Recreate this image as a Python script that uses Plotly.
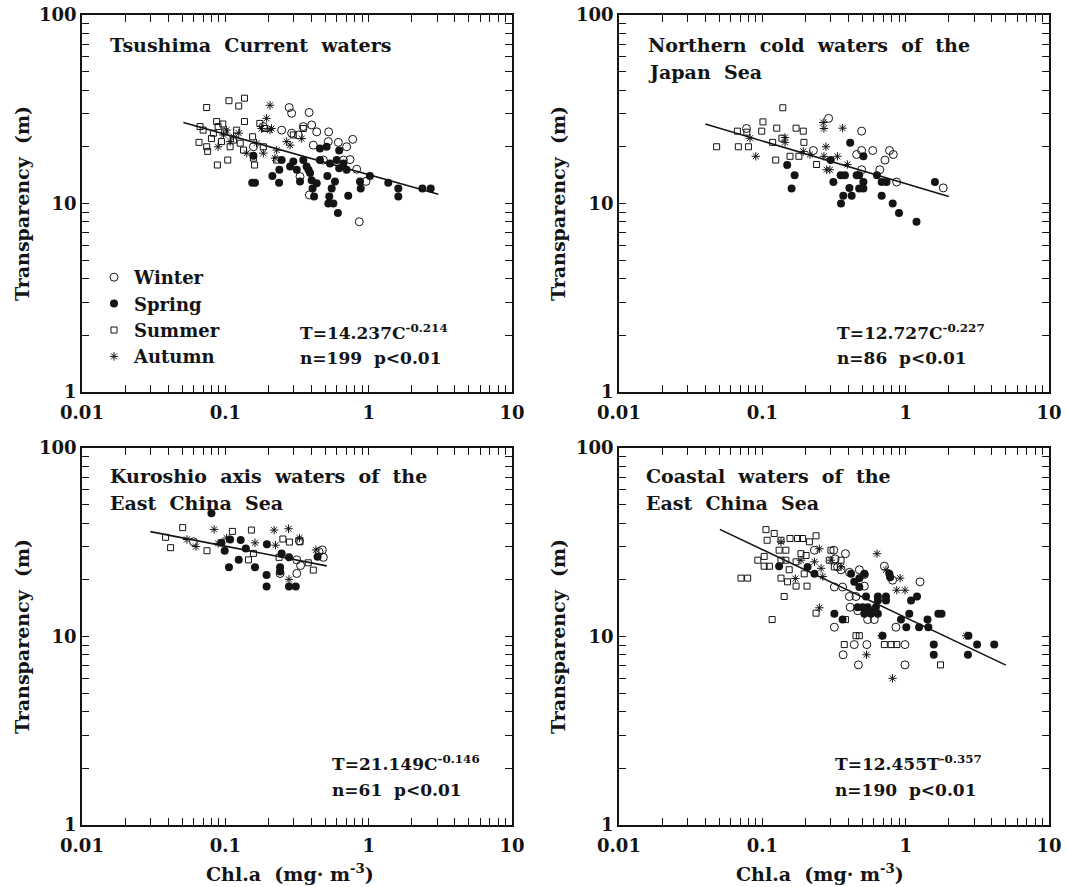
import plotly.graph_objects as go
from plotly.subplots import make_subplots

W, H = 1066, 887
FONT = "DejaVu Serif"
INK = "#141414"

# ---------------- Panel 1: Tsushima Current waters ----------------
tl_winter_x = [0.279, 0.290, 0.384, 0.40, 0.434, 0.526, 0.774, 0.614, 0.702, 0.523, 0.741, 0.825, 0.958,
               0.86, 0.386, 0.332, 0.290, 0.247, 0.323, 0.411, 0.483, 0.666, 0.184, 0.157, 0.35]
tl_winter_y = [32.3, 30.1, 30.4, 26.1, 24.0, 24.0, 21.9, 21.1, 20.0, 21.3, 17.1, 15.2, 13.1,
               8.0, 11.1, 13.9, 23.6, 24.5, 23.1, 20.4, 17.0, 17.0, 25.6, 20.0, 25.6]
tl_spring_x = [0.154, 0.161, 0.213, 0.238, 0.237, 0.332, 0.298, 0.247, 0.315, 0.369, 0.390, 0.40, 0.406,
               0.416, 0.350, 0.457, 0.515, 0.582, 0.552, 0.531, 0.523, 0.567, 0.61, 0.72, 0.623, 0.598,
               0.666, 0.623, 0.870, 0.88, 1.02, 1.37, 1.61, 1.61, 2.37, 2.71, 0.457, 0.537, 0.283,
               0.38, 0.434, 0.702, 0.509, 0.157]
tl_spring_y = [12.9, 12.9, 14.0, 15.1, 12.9, 13.1, 16.7, 17.0, 15.1, 15.7, 14.5, 13.3, 12.0,
               10.9, 17.0, 19.6, 14.0, 13.1, 12.0, 10.9, 10.0, 10.0, 8.9, 11.0, 19.1, 17.0,
               16.3, 15.4, 13.1, 12.0, 14.0, 12.9, 12.0, 10.9, 12.0, 12.0, 17.0, 16.3, 15.7,
               15.1, 12.8, 15.1, 20.0, 17.9]
tl_summer_x = [0.0741, 0.106, 0.124, 0.136, 0.0655, 0.0741, 0.0753, 0.087, 0.096, 0.104, 0.088, 0.160,
               0.136, 0.155, 0.120, 0.157, 0.070, 0.0825, 0.094, 0.108, 0.174, 0.189, 0.228, 0.350,
               0.298, 0.184, 0.134, 0.114, 0.099, 0.0666, 0.080, 0.127, 0.089]
tl_summer_y = [32.3, 35.1, 32.9, 36.2, 21.1, 20.0, 18.9, 27.2, 26.4, 17.0, 16.0, 16.0,
               27.2, 22.6, 24.5, 17.4, 24.5, 23.6, 21.3, 20.0, 26.6, 25.0, 17.0, 25.0,
               23.1, 20.0, 19.2, 21.7, 24.0, 25.6, 22.1, 20.9, 25.6]
tl_autumn_x = [0.205, 0.194, 0.210, 0.114, 0.102, 0.089, 0.141, 0.184, 0.268, 0.341, 0.283, 0.222,
               0.165, 0.124, 0.108, 0.179, 0.228, 0.097, 0.205]
tl_autumn_y = [33.2, 28.3, 25.0, 22.6, 24.5, 20.0, 18.5, 18.5, 21.3, 22.1, 20.4, 17.4,
               20.9, 23.6, 21.3, 25.0, 19.2, 23.1, 24.5]
tl_fit_x = [0.051, 3.06]
tl_fit_y = [26.9, 11.2]

# ---------------- Panel 2: Northern cold waters of the Japan Sea ----------------
tr_winter_x = [0.0775, 0.29, 0.493, 0.227, 0.455, 0.493, 0.589, 0.772, 0.82, 0.717, 0.66, 0.493, 0.865, 1.83]
tr_winter_y = [25.0, 28.3, 24.2, 19.1, 18.2, 19.1, 19.1, 19.1, 18.2, 17.0, 15.1, 15.1, 13.0, 12.1]
tr_spring_x = [0.149, 0.168, 0.160, 0.313, 0.352, 0.377, 0.405, 0.367, 0.354, 0.420, 0.474, 0.507, 0.507,
               0.455, 0.474, 0.63, 0.68, 0.735, 0.68, 0.812, 0.898, 1.19, 1.60, 0.41, 0.507, 0.30]
tr_spring_y = [16.0, 14.1, 12.0, 13.0, 14.1, 14.1, 12.1, 11.0, 10.0, 11.0, 12.0, 12.0, 13.0,
               14.1, 14.1, 14.1, 13.0, 13.0, 11.0, 10.0, 8.9, 8.0, 13.0, 21.0, 17.8, 17.0]
tr_summer_x = [0.139, 0.048, 0.068, 0.080, 0.067, 0.099, 0.101, 0.126, 0.172, 0.193, 0.195, 0.118,
               0.124, 0.156, 0.180, 0.239, 0.137, 0.078]
tr_summer_y = [32.2, 20.0, 20.0, 20.0, 24.2, 24.2, 27.1, 25.1, 25.1, 24.2, 21.1, 21.1,
               17.0, 17.8, 17.8, 16.1, 22.2, 23.9]
tr_autumn_x = [0.266, 0.269, 0.363, 0.144, 0.144, 0.090, 0.278, 0.269, 0.334, 0.281, 0.296, 0.392,
               0.193, 0.215, 0.082]
tr_autumn_y = [26.9, 25.0, 25.1, 22.4, 21.1, 17.8, 20.0, 17.8, 17.8, 15.1, 15.1, 16.1,
               18.9, 18.2, 22.2]
tr_fit_x = [0.040, 2.0]
tr_fit_y = [26.4, 10.9]

# ---------------- Panel 3: Kuroshio axis waters of the East China Sea ----------------
bl_winter_x = [0.060, 0.328, 0.315, 0.335, 0.315, 0.241, 0.475, 0.483, 0.450]
bl_winter_y = [31.8, 32.2, 25.5, 23.8, 21.6, 21.6, 28.8, 26.3, 28.2]
bl_spring_x = [0.080, 0.094, 0.108, 0.128, 0.099, 0.124, 0.106, 0.139, 0.161, 0.195, 0.194, 0.247,
               0.278, 0.241, 0.241, 0.194, 0.278, 0.31, 0.44]
bl_spring_y = [45.0, 31.4, 32.7, 32.5, 28.5, 25.5, 23.3, 29.3, 23.3, 30.9, 21.2, 27.6,
               26.3, 23.3, 22.1, 18.4, 18.4, 18.4, 26.5]
bl_summer_x = [0.0504, 0.0383, 0.0415, 0.0745, 0.112, 0.152, 0.252, 0.280, 0.145, 0.237, 0.379, 0.411,
               0.332, 0.157]
bl_summer_y = [37.8, 33.6, 29.6, 28.5, 36.1, 36.7, 32.9, 31.7, 25.5, 26.3, 24.6, 22.5,
               31.8, 27.6]
bl_autumn_x = [0.0835, 0.054, 0.0624, 0.102, 0.161, 0.219, 0.276, 0.329, 0.224, 0.278, 0.429, 0.089]
bl_autumn_y = [37.0, 32.7, 30.0, 33.3, 31.4, 36.7, 37.3, 33.3, 30.5, 20.1, 28.8, 31.2]
bl_fit_x = [0.030, 0.51]
bl_fit_y = [36.0, 23.7]

# ---------------- Panel 4: Coastal waters of the East China Sea ----------------
br_winter_x = [0.231, 0.315, 0.380, 0.322, 0.335, 0.354, 0.475, 0.405, 0.515, 0.318, 0.363, 0.405,
               0.450, 0.515, 0.41, 0.463, 0.543, 0.604, 0.710, 0.81, 1.26, 0.318, 0.438, 0.536,
               0.366, 0.468, 0.989, 0.989, 0.855]
br_winter_y = [28.7, 28.7, 27.5, 25.8, 23.4, 22.6, 22.6, 21.9, 21.3, 18.3, 18.3, 16.3,
               16.3, 18.5, 14.3, 13.7, 12.3, 12.3, 23.6, 19.9, 19.5, 11.2, 9.06, 9.06,
               8.0, 7.07, 7.07, 9.06, 11.2]
br_spring_x = [0.131, 0.318, 0.363, 0.416, 0.515, 0.475, 0.438, 0.529, 0.640, 0.729, 0.640, 0.729,
               0.463, 0.501, 0.543, 0.573, 0.620, 0.515, 0.573, 0.640, 0.769, 0.78, 1.09, 1.20,
               0.927, 1.06, 1.01, 1.24, 1.42, 1.44, 1.69, 1.78, 0.69, 1.57, 1.57, 2.74, 3.15,
               4.15, 2.72, 0.475, 0.231, 0.207]
br_spring_y = [23.6, 13.2, 12.3, 21.5, 21.5, 20.4, 19.5, 16.3, 16.3, 16.3, 15.5, 15.5,
               14.3, 14.3, 14.3, 13.7, 14.3, 13.2, 13.2, 13.2, 21.5, 20.6, 15.5, 16.3,
               12.3, 13.2, 11.2, 11.2, 12.3, 11.2, 13.2, 13.2, 10.1, 9.06, 8.0, 10.1, 9.06,
               9.06, 8.0, 18.3, 21.5, 23.4]
br_summer_x = [0.106, 0.121, 0.108, 0.156, 0.176, 0.191, 0.213, 0.237, 0.135, 0.146, 0.131, 0.093,
               0.103, 0.103, 0.112, 0.135, 0.146, 0.154, 0.172, 0.071, 0.079, 0.135, 0.150, 0.172,
               0.205, 0.142, 0.117, 0.186, 0.202, 0.301, 0.293, 0.196, 0.237, 0.380, 0.373, 0.450,
               0.475, 0.710, 0.792, 0.867, 1.75, 0.318, 0.354]
br_summer_y = [36.9, 35.2, 32.4, 33.1, 33.1, 33.1, 31.8, 34.2, 32.4, 28.7, 28.7, 25.4,
               26.6, 23.6, 23.6, 25.4, 25.4, 22.6, 24.9, 20.4, 20.4, 20.4, 19.5, 18.5,
               18.5, 16.3, 12.3, 27.5, 26.9, 28.7, 25.4, 21.5, 13.3, 12.3, 9.06, 10.1,
               10.1, 9.06, 9.06, 9.06, 7.07, 23.4, 25.4]
br_autumn_x = [0.135, 0.250, 0.631, 0.186, 0.231, 0.257, 0.264, 0.170, 0.729, 0.915, 0.867, 0.989,
               0.68, 0.533, 0.81, 0.250, 2.64, 0.301, 0.354]
br_autumn_y = [31.8, 29.2, 27.5, 25.4, 24.9, 23.0, 20.8, 20.3, 22.6, 20.4, 17.6, 17.6,
               10.1, 8.0, 6.0, 14.2, 10.1, 25.4, 23.4]
br_fit_x = [0.0505, 5.0]
br_fit_y = [37.0, 7.05]

# Axis ticks
x_tickvals = [0.01, 0.02, 0.03, 0.04, 0.05, 0.06, 0.07, 0.08, 0.09,
              0.1, 0.2, 0.3, 0.4, 0.5, 0.6, 0.7, 0.8, 0.9,
              1, 2, 3, 4, 5, 6, 7, 8, 9, 10]
x_ticklabels = {0.01: "0.01", 0.1: "0.1", 1: "1", 10: "10"}
y_tickvals = [1, 2, 3, 4, 5, 6, 7, 8, 9,
              10, 20, 30, 40, 50, 60, 70, 80, 90, 100]
y_ticklabels = {1: "1", 10: "10", 100: "100"}

seasons = ["Winter", "Spring", "Summer", "Autumn"]

panels = [
    dict(row=1, col=1,
         data={"Winter": (tl_winter_x, tl_winter_y), "Spring": (tl_spring_x, tl_spring_y),
               "Summer": (tl_summer_x, tl_summer_y), "Autumn": (tl_autumn_x, tl_autumn_y)},
         fit=(tl_fit_x, tl_fit_y)),
    dict(row=1, col=2,
         data={"Winter": (tr_winter_x, tr_winter_y), "Spring": (tr_spring_x, tr_spring_y),
               "Summer": (tr_summer_x, tr_summer_y), "Autumn": (tr_autumn_x, tr_autumn_y)},
         fit=(tr_fit_x, tr_fit_y)),
    dict(row=2, col=1,
         data={"Winter": (bl_winter_x, bl_winter_y), "Spring": (bl_spring_x, bl_spring_y),
               "Summer": (bl_summer_x, bl_summer_y), "Autumn": (bl_autumn_x, bl_autumn_y)},
         fit=(bl_fit_x, bl_fit_y)),
    dict(row=2, col=2,
         data={"Winter": (br_winter_x, br_winter_y), "Spring": (br_spring_x, br_spring_y),
               "Summer": (br_summer_x, br_summer_y), "Autumn": (br_autumn_x, br_autumn_y)},
         fit=(br_fit_x, br_fit_y)),
]

marker_styles = {
    "Winter": dict(symbol="circle-open", size=8, color=INK, line=dict(width=1, color=INK)),
    "Spring": dict(symbol="circle", size=8, color=INK, line=dict(width=0, color=INK)),
    "Summer": dict(symbol="square-open", size=6, color=INK, line=dict(width=1, color=INK)),
    "Autumn": dict(symbol="asterisk-open", size=7, color=INK, line=dict(width=1, color=INK)),
}

fig = make_subplots(rows=2, cols=2)

for i, p in enumerate(panels):
    for s in seasons:
        xs, ys = p["data"][s]
        fig.add_trace(go.Scatter(x=xs, y=ys, mode="markers", name=s,
                                 marker=marker_styles[s], showlegend=(i == 0),
                                 legendgroup=s), row=p["row"], col=p["col"])
    fx, fy = p["fit"]
    fig.add_trace(go.Scatter(x=fx, y=fy, mode="lines", line=dict(color=INK, width=1.6),
                             showlegend=False, hoverinfo="skip"), row=p["row"], col=p["col"])

tick_font = dict(family=FONT, size=18, color=INK, weight="bold")
axis_common = dict(type="log", showgrid=False, zeroline=False, showline=True, linecolor=INK,
                   linewidth=1.5, mirror="ticks", ticks="inside", ticklen=7, tickwidth=1.3,
                   tickcolor=INK, tickfont=tick_font, automargin=False)

# Domains in pixels -> paper
def dx(a, b):
    return [a / W, b / W]

def dy(top, bottom):
    return [1 - bottom / H, 1 - top / H]

x_domains = {1: dx(82, 512), 2: dx(619, 1049)}
y_domains = {1: dy(15, 392), 2: dy(448, 825)}

for p in panels:
    r, c = p["row"], p["col"]
    fig.update_xaxes(axis_common, range=[-2, 1], domain=x_domains[c],
                     tickvals=x_tickvals,
                     ticktext=[x_ticklabels.get(v, "") for v in x_tickvals],
                     ticklabelstandoff=4,
                     row=r, col=c)
    fig.update_yaxes(axis_common, range=[0, 2], domain=y_domains[r],
                     tickvals=y_tickvals,
                     ticktext=[y_ticklabels.get(v, "") for v in y_tickvals],
                     row=r, col=c)

def ann(text, px, py, xa="left", ya="middle", size=18, angle=0):
    return dict(text=text, x=px / W, y=1 - py / H, xref="paper", yref="paper",
                xanchor=xa, yanchor=ya, showarrow=False, textangle=angle,
                font=dict(family=FONT, size=size, color=INK, weight="bold"))

NB = "\u00a0"
annotations = [
    ann(f"Tsushima{NB}{NB}Current{NB}{NB}waters", 108, 45, size=19),
    ann(f"Northern{NB}{NB}cold{NB}{NB}waters{NB}{NB}of{NB}{NB}the", 646, 45, size=19),
    ann(f"Japan{NB}{NB}Sea", 646, 72, size=19),
    ann(f"Kuroshio{NB}{NB}axis{NB}{NB}waters{NB}{NB}of{NB}{NB}the", 108, 476, size=19),
    ann(f"East{NB}{NB}China{NB}{NB}Sea", 108, 503, size=19),
    ann(f"Coastal{NB}{NB}waters{NB}{NB}of{NB}{NB}the", 644, 476, size=19),
    ann(f"East{NB}{NB}China{NB}{NB}Sea", 644, 503, size=19),
    ann("T=14.237C<sup>-0.214</sup>", 298, 332, size=17),
    ann(f"n=199{NB}{NB}p&lt;0.01", 298, 358, size=17),
    ann("T=12.727C<sup>-0.227</sup>", 835, 332, size=17),
    ann(f"n=86{NB}{NB}p&lt;0.01", 835, 358, size=17),
    ann("T=21.149C<sup>-0.146</sup>", 330, 763, size=17),
    ann(f"n=61{NB}{NB}p&lt;0.01", 330, 790, size=17),
    ann("T=12.455T<sup>-0.357</sup>", 833, 763, size=17),
    ann(f"n=190{NB}{NB}p&lt;0.01", 833, 790, size=17),
    ann(f"Transparency{NB}{NB}(m)", 22, 204, xa="center", ya="middle", size=19, angle=-90),
    ann(f"Transparency{NB}{NB}(m)", 558, 204, xa="center", ya="middle", size=19, angle=-90),
    ann(f"Transparency{NB}{NB}(m)", 22, 637, xa="center", ya="middle", size=19, angle=-90),
    ann(f"Transparency{NB}{NB}(m)", 558, 637, xa="center", ya="middle", size=19, angle=-90),
    ann(f"Chl.a{NB}{NB}(mg·{NB}m<sup>-3</sup>)", 290, 873, xa="center", size=19),
    ann(f"Chl.a{NB}{NB}(mg·{NB}m<sup>-3</sup>)", 820, 873, xa="center", size=19),
]

fig.update_layout(
    width=W, height=H,
    margin=dict(l=0, r=0, t=0, b=0),
    paper_bgcolor="white", plot_bgcolor="white",
    font=dict(family=FONT, color=INK),
    annotations=annotations,
    legend=dict(x=94 / W, y=1 - 259 / H, xanchor="left", yanchor="top",
                bgcolor="rgba(0,0,0,0)", borderwidth=0, traceorder="normal",
                font=dict(family=FONT, size=18, color=INK, weight="bold")),
)

fig.write_html("out.html")
